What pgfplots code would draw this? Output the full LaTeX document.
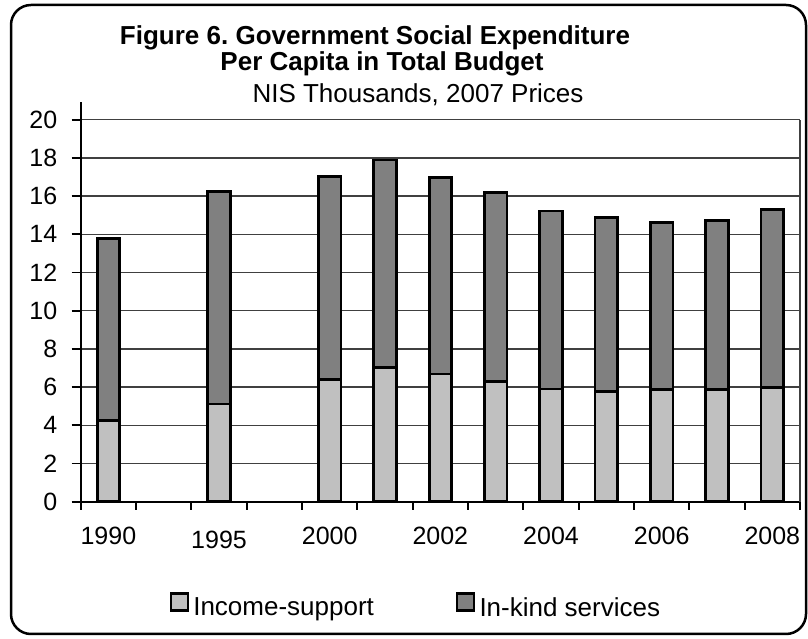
\documentclass[border=0pt]{standalone}
\usepackage{fontspec}
\setmainfont{Liberation Sans}
\usepackage{pgfplots}
\usepackage{pgfplotstable}
\pgfplotsset{compat=1.18}
\frenchspacing
\definecolor{incomec}{RGB}{192,192,192}
\definecolor{inkindc}{RGB}{128,128,128}
\definecolor{gridc}{RGB}{64,64,64}

\pgfplotstableread{
x income inkind
0 4.24 9.55
2 5.11 11.12
4 6.41 10.61
5 7.02 10.87
6 6.69 10.27
7 6.28 9.92
8 5.90 9.32
9 5.76 9.11
10 5.88 8.73
11 5.88 8.83
12 5.99 9.32
}\datatable

\begin{document}
\begin{tikzpicture}
\useasboundingbox (0,0) rectangle (808bp,639bp);
\draw[line width=2.5bp, rounded corners=20bp] (11bp,5bp) rectangle (806bp,634bp);
\node[anchor=base, inner sep=0pt, font=\fontsize{26bp}{30bp}\selectfont\bfseries] at (375bp,594bp) {Figure 6. Government Social Expenditure};
\node[anchor=base, inner sep=0pt, font=\fontsize{26bp}{30bp}\selectfont\bfseries] at (382bp,568bp) {Per Capita in Total Budget};
\node[anchor=base, inner sep=0pt, font=\fontsize{26bp}{30bp}\selectfont] at (418bp,536bp) {NIS Thousands, 2007 Prices};
\begin{axis}[
  at={(80.7bp,137.3bp)}, anchor=south west,
  scale only axis, width=719.3bp, height=382bp,
  xmin=-0.5, xmax=12.5, ymin=0, ymax=20,
  ybar stacked, bar width=22.5bp,
  axis x line*=bottom, axis y line*=left,
  axis line style={-, black, line width=2bp},
  ytick={0,2,...,20},
  xtick={0,2,4,6,8,10,12},
  xticklabels={1990,\raisebox{-4bp}[\height]{1995},2000,2002,2004,2006,2008},
  minor xtick={-0.5,0.5,...,12.5},
  tick align=outside,
  major tick length=9bp, minor tick length=8bp,
  major x tick style={draw=none},
  minor x tick style={black, line width=1.8bp},
  ytick style={black, line width=1.8bp},
  ymajorgrids, major grid style={gridc, line width=1.4bp},
  ticklabel style={font=\fontsize{25bp}{30bp}\selectfont},
  /pgf/number format/assume math mode=true,
  xticklabel style={yshift=-13bp},
  yticklabel style={xshift=-11bp},
  legend style={at={(0.466,-0.273)}, anchor=center, draw=none, fill=none,
    legend columns=2, font=\fontsize{26bp}{30bp}\selectfont,
    /tikz/every even column/.append style={column sep=80bp}},
  legend image code/.code={\draw[#1, line width=2.4bp] (0bp,-3bp) rectangle (17bp,14bp); \path (19bp,0bp);},
  clip=false,
]
\addplot[fill=incomec, draw=black, line width=2.8bp] table[x=x, y=income] {\datatable};
\addplot[fill=inkindc, draw=black, line width=2.8bp] table[x=x, y=inkind] {\datatable};
\legend{Income-support, In-kind services}
\draw[gridc, line width=1.4bp] (axis cs:12.5,0) -- (axis cs:12.5,20);
\draw[black, line width=2bp] (axis cs:-0.5,20) -- ([yshift=18bp]axis cs:-0.5,20);
\end{axis}
\end{tikzpicture}
\end{document}
